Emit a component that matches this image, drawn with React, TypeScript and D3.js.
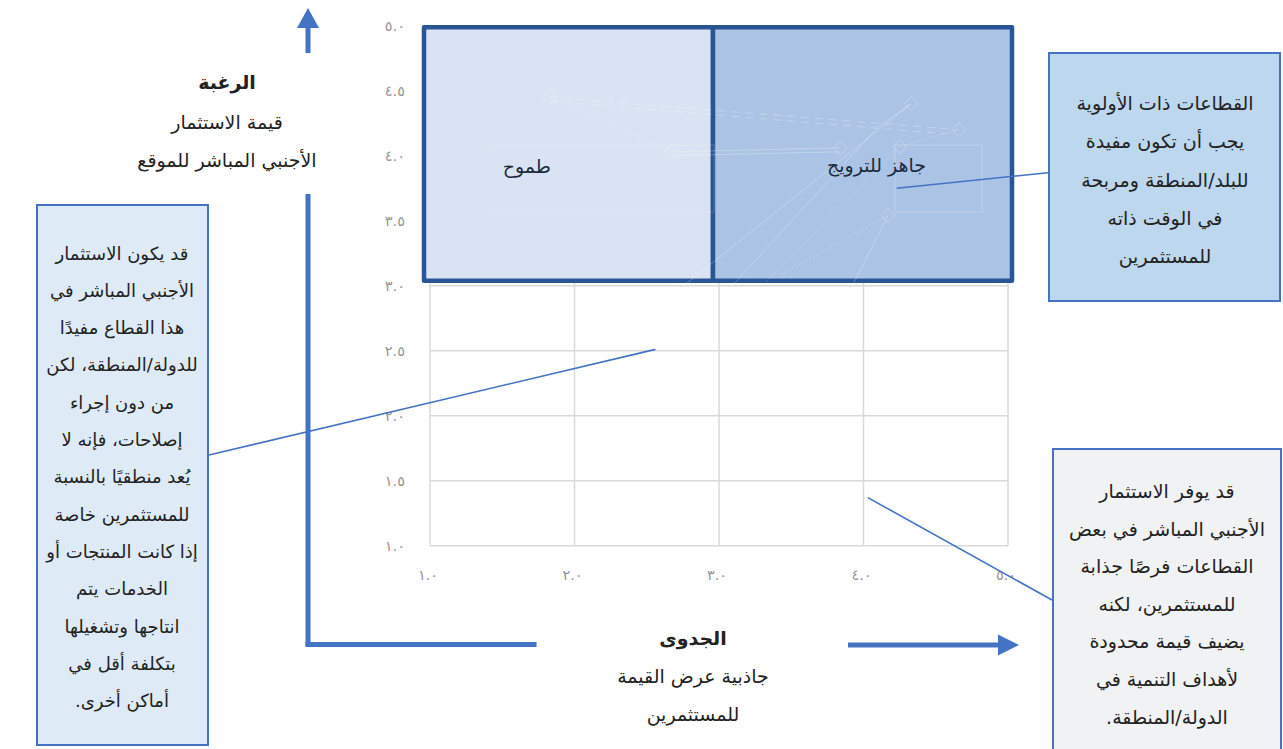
import React from 'react';
import * as d3 from 'd3';

// Axis values
const xTicks = [1, 2, 3, 4, 5];
const yTicks = [1, 1.5, 2, 2.5, 3, 3.5, 4, 4.5, 5];
const xDomain = [1, 5];
const yDomain = [1, 5];

// Quadrants (investor attractiveness x, FDI value y)
const quadrantNames = ['طموح', 'جاهز للترويج'];
const quadrantX = [[1, 3], [3, 5]];
const quadrantY = [3, 5];
const quadrantLabelAt = [[1.67, 3.92], [4.09, 3.93]];

// Faint background sector traces
const tracePoints = [[1.83, 4.45], [2.67, 4.03], [3.84, 4.06], [4.25, 4.07], [4.33, 4.40], [4.66, 4.20], [4.17, 3.54]];
const traceDotted = [
  [[1.83, 4.45], [2.67, 4.03]],
  [[4.66, 4.20], [4.25, 4.07]],
  [[4.17, 3.54], [3.42, 3.08]],
  [[4.25, 4.07], [3.3, 3.0]],
];
const traceDashed = [
  [[1.83, 4.45], [4.66, 4.20]],
  [[1.83, 4.42], [4.55, 4.17]],
];
const traceSolid = [
  [[2.67, 4.03], [3.84, 4.06]],
  [[2.67, 4.0], [3.84, 4.03]],
  [[4.33, 4.40], [2.7, 2.95]],
  [[4.33, 4.40], [4.1, 4.22], [3.05, 2.95]],
  [[4.17, 3.54], [3.9, 2.95]],
];

// Axis titles
const yTitle = ['الرغبة', 'قيمة الاستثمار', 'الأجنبي المباشر للموقع'];
const xTitle = ['الجدوى', 'جاذبية عرض القيمة', 'للمستثمرين'];

// Callouts
const leftNote = [
  'قد يكون الاستثمار',
  'الأجنبي المباشر في',
  'هذا القطاع مفيدًا',
  'للدولة/المنطقة، لكن',
  'من دون إجراء',
  'إصلاحات، فإنه لا',
  'يُعد منطقيًا بالنسبة',
  'للمستثمرين خاصة',
  'إذا كانت المنتجات أو',
  'الخدمات يتم',
  'انتاجها وتشغيلها',
  'بتكلفة أقل في',
  'أماكن أخرى.',
];
const topRightNote = [
  'القطاعات ذات الأولوية',
  'يجب أن تكون مفيدة',
  'للبلد/المنطقة ومربحة',
  'في الوقت ذاته',
  'للمستثمرين',
];
const bottomRightNote = [
  'قد يوفر الاستثمار',
  'الأجنبي المباشر في بعض',
  'القطاعات فرصًا جذابة',
  'للمستثمرين، لكنه',
  'يضيف قيمة محدودة',
  'لأهداف التنمية في',
  'الدولة/المنطقة.',
];
// Connector anchor in data space for each callout
const leftNoteTarget = [2.56, 2.51];
const topRightNoteTarget = [4.23, 3.75];
const bottomRightNoteTarget = [4.03, 1.37];

const W = 1283;
const H = 749;
const FONT = "'DejaVu Sans', sans-serif";
const BLUE = '#4472c4';
const NAVY = '#2a5595';

const arabicDigits = '٠١٢٣٤٥٦٧٨٩';
const toArabic = (v: number) =>
  v.toFixed(1).replace(/[0-9]/g, (c) => arabicDigits[+c]);

export default function App() {
  const x = d3.scaleLinear().domain(xDomain).range([430, 1008]);
  const y = d3.scaleLinear().domain(yDomain).range([545.7, 25.7]);
  const line = d3.line<number[]>().x((d) => x(d[0])).y((d) => y(d[1]));

  const qTop = y(quadrantY[1]) + 1.5;
  const qBottom = y(quadrantY[0]) - 5;
  const qLeft = (i: number) => (i === 0 ? x(quadrantX[0][0]) - 6 : x(quadrantX[1][0]) - 6);
  const qRight = (i: number) => (i === 0 ? x(quadrantX[0][1]) - 6 : x(quadrantX[1][1]) + 4);
  const qFill = ['#dae3f3', '#abc4e5'];

  const noteLines = (lines: string[], cx: number, y0: number, step: number, size: number) =>
    lines.map((t, i) => (
      <text key={i} x={cx} y={y0 + i * step} textAnchor="middle" dominantBaseline="central"
        direction="rtl" fontSize={size} fill="#222" fontFamily={FONT}>{t}</text>
    ));

  return (
    <svg width={W} height={H} viewBox={`0 0 ${W} ${H}`}
      style={{ position: 'absolute', left: 0, top: 0, background: '#fff' }}>
      {/* grid */}
      <g stroke="#d9d9d9" strokeWidth={1.5}>
        {xTicks.map((t) => (
          <line key={'gx' + t} x1={x(t)} x2={x(t)} y1={y(5)} y2={y(1)} />
        ))}
        {yTicks.map((t) => (
          <line key={'gy' + t} x1={x(1)} x2={x(5)} y1={y(t)} y2={y(t)} />
        ))}
      </g>

      {/* tick labels */}
      <g fontFamily={FONT} fontSize={14.5} fill="#959595">
        {yTicks.map((t) => (
          <text key={'ty' + t} x={405} y={y(t)} textAnchor="end" dominantBaseline="central">{toArabic(t)}</text>
        ))}
        {xTicks.map((t) => (
          <text key={'tx' + t} x={x(t) - 2} y={575} textAnchor="middle" dominantBaseline="central">{toArabic(t)}</text>
        ))}
      </g>

      {/* quadrants */}
      {quadrantNames.map((n, i) => (
        <rect key={'q' + i} x={qLeft(i)} y={qTop} width={qRight(i) - qLeft(i)} height={qBottom - qTop}
          fill={qFill[i]} stroke={NAVY} strokeWidth={4.5} strokeLinejoin="round" />
      ))}

      {/* faint traces */}
      <g fill="none" stroke="#ffffff" strokeOpacity={0.3} strokeWidth={0.9}>
        {traceSolid.map((p, i) => <path key={'s' + i} d={line(p) || ''} />)}
        {traceDashed.map((p, i) => <path key={'d' + i} d={line(p) || ''} strokeDasharray="8 6" />)}
        {traceDotted.map((p, i) => <path key={'o' + i} d={line(p) || ''} strokeDasharray="2 2" />)}
        {tracePoints.map((p, i) => (
          <rect key={'p' + i} x={x(p[0]) - 5} y={y(p[1]) - 5} width={10} height={10}
            transform={`rotate(45 ${x(p[0])} ${y(p[1])})`} />
        ))}
        <rect x={488} y={145} width={226} height={67} strokeOpacity={0.2} />
        <rect x={895} y={145} width={87} height={67} strokeOpacity={0.25} />
      </g>

      {/* quadrant labels */}
      {quadrantNames.map((n, i) => (
        <text key={'ql' + i} x={x(quadrantLabelAt[i][0])} y={y(quadrantLabelAt[i][1])} textAnchor="middle"
          dominantBaseline="central" direction="rtl" fontFamily={FONT} fontSize={19} fill="#1c2b3e">{n}</text>
      ))}

      {/* axis arrows */}
      <g fill={BLUE} stroke="none">
        <polygon points="297,28 319,28 308,8" />
        <rect x={305.5} y={27} width={5} height={26} />
        <rect x={305.5} y={194} width={5} height={452} />
        <rect x={305.5} y={642} width={231} height={5} />
        <rect x={848} y={642.5} width={152} height={5} />
        <polygon points="998,634.5 998,655.5 1019,645" />
      </g>

      {/* axis titles */}
      <g fontFamily={FONT} fill="#222" textAnchor="middle" direction="rtl">
        <text x={227} y={82} fontSize={19} fontWeight="bold" dominantBaseline="central">{yTitle[0]}</text>
        <text x={227} y={122} fontSize={19} dominantBaseline="central">{yTitle[1]}</text>
        <text x={227} y={160} fontSize={19} dominantBaseline="central">{yTitle[2]}</text>
        <text x={693} y={638} fontSize={19} fontWeight="bold" dominantBaseline="central">{xTitle[0]}</text>
        <text x={693} y={676} fontSize={19} dominantBaseline="central">{xTitle[1]}</text>
        <text x={693} y={714} fontSize={19} dominantBaseline="central">{xTitle[2]}</text>
      </g>

      {/* callout connectors */}
      <g stroke={BLUE} strokeWidth={1.6}>
        <line x1={209} y1={455} x2={x(leftNoteTarget[0])} y2={y(leftNoteTarget[1])} />
        <line x1={1055} y1={172} x2={x(topRightNoteTarget[0])} y2={y(topRightNoteTarget[1])} />
        <line x1={1052} y1={600} x2={x(bottomRightNoteTarget[0])} y2={y(bottomRightNoteTarget[1])} />
      </g>

      {/* callouts */}
      <rect x={37} y={205} width={171} height={540} fill="#deebf7" stroke={BLUE} strokeWidth={2} />
      {noteLines(leftNote, 122, 253, 37.3, 18)}

      <rect x={1049} y={53} width={231} height={248} fill="#bdd7ee" stroke={BLUE} strokeWidth={2} />
      {noteLines(topRightNote, 1165, 103, 38.3, 19)}

      <rect x={1053} y={449} width={228} height={310} fill="#f1f2f4" stroke={BLUE} strokeWidth={2} />
      {noteLines(bottomRightNote, 1167, 491, 37.6, 19)}
    </svg>
  );
}
